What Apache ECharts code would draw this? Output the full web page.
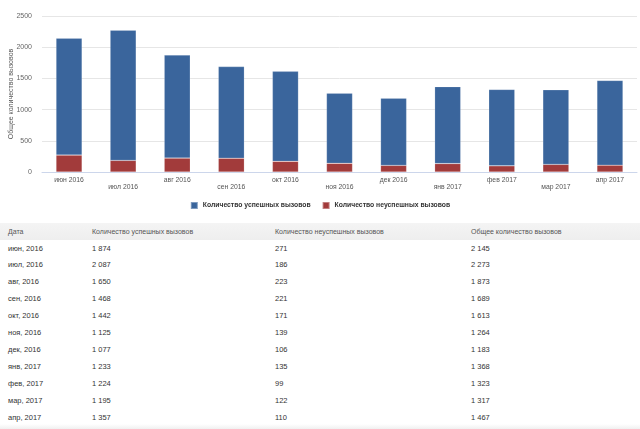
<!DOCTYPE html>
<html>
<head>
<meta charset="utf-8">
<script src="https://cdn.jsdelivr.net/npm/echarts@6/dist/echarts.min.js"></script>
<style>
  html, body { margin:0; padding:0; background:#fff; }
  #wrap { position:relative; width:640px; height:429px; overflow:hidden; font-family:"Liberation Sans", Arial, Helvetica, sans-serif; }
  #chart { position:absolute; left:0; top:0; width:640px; height:215px; }
  #hdr { position:absolute; left:0; top:223px; width:640px; height:17px; background:linear-gradient(#f4f4f4,#eeeeee); }
  .cell { position:absolute; white-space:nowrap; font-size:7.5px; line-height:9px; color:#333; }
  .hcell { color:#555; font-size:7px; }
  #bottom { position:absolute; left:0; top:424px; width:640px; height:5px; background:linear-gradient(#ffffff,#f0f0f0); }
</style>
</head>
<body>
<div id="wrap">
  <div id="chart"></div>
  <div id="hdr"></div>
  <div id="table"></div>
  <div id="bottom"></div>
</div>
<script>
// ---- data ----
const categories = ['июн 2016','июл 2016','авг 2016','сен 2016','окт 2016','ноя 2016','дек 2016','янв 2017','фев 2017','мар 2017','апр 2017'];
const tableDates = ['июн, 2016','июл, 2016','авг, 2016','сен, 2016','окт, 2016','ноя, 2016','дек, 2016','янв, 2017','фев, 2017','мар, 2017','апр, 2017'];
const successCalls = [1874, 2087, 1650, 1468, 1442, 1125, 1077, 1233, 1224, 1195, 1357];
const failedCalls  = [271, 186, 223, 221, 171, 139, 106, 135, 99, 122, 110];
const totalCalls   = [2145, 2273, 1873, 1689, 1613, 1264, 1183, 1368, 1323, 1317, 1467];
const seriesNames  = ['Количество успешных вызовов', 'Количество неуспешных вызовов'];
const tableHeaders = ['Дата', 'Количество успешных вызовов', 'Количество неуспешных вызовов', 'Общее количество вызовов'];
const yAxisTitle   = 'Общее количество вызовов';

const FONT = '"Liberation Sans", Arial, Helvetica, sans-serif';
const chart = echarts.init(document.getElementById('chart'), null, {renderer:'canvas'});
chart.setOption({
  animation:false,
  textStyle:{fontFamily:FONT},
  grid:{left:42, right:3, top:16, bottom:43, containLabel:false, outerBoundsMode:'none'},
  legend:{
    data:[seriesNames[0], seriesNames[1]],
    top:196, left:'center',
    itemWidth:7, itemHeight:7, itemGap:11, icon:'rect',
    textStyle:{fontSize:6.8, fontWeight:'bold', color:'#333', fontFamily:FONT}
  },
  xAxis:{
    type:'category', data:categories,
    axisLine:{lineStyle:{color:'#ccd6eb', width:1}},
    axisTick:{alignWithLabel:true, length:5, lineStyle:{color:'#ccd6eb'}},
    axisLabel:{
      interval:0, margin:5, fontSize:6.8, color:'#555', fontFamily:FONT,
      formatter:function(v, i){ return i % 2 ? '{b|' + v + '}' : '{a|' + v + '}'; },
      rich:{a:{fontSize:6.8, color:'#555', fontFamily:FONT}, b:{fontSize:6.8, color:'#555', fontFamily:FONT, padding:[7,0,0,0]}}
    }
  },
  yAxis:{
    type:'value', min:0, max:2500, interval:500,
    name:yAxisTitle, nameLocation:'middle', nameGap:27, nameRotate:90, nameMoveOverlap:false,
    nameTextStyle:{fontSize:7, color:'#555', fontFamily:FONT},
    axisLine:{show:false}, axisTick:{show:false},
    axisLabel:{fontSize:7, color:'#666', margin:10, fontFamily:FONT, formatter:function(v){ return String(v); }},
    splitLine:{lineStyle:{color:'#e6e6e6', width:1}}
  },
  series:[
    {name:seriesNames[1], type:'bar', stack:'calls', data:failedCalls, barWidth:26,
     itemStyle:{color:'#a23b3b', borderColor:'rgba(255,255,255,0.35)', borderWidth:0.5}},
    {name:seriesNames[0], type:'bar', stack:'calls', data:successCalls, barWidth:26,
     itemStyle:{color:'#3a659c', borderColor:'rgba(255,255,255,0.35)', borderWidth:0.5}}
  ]
});

// ---- table ----
function fmt(n){ return String(n).replace(/\B(?=(\d{3})+(?!\d))/g, ' '); }
const colX = [8, 92, 275, 471];
const table = document.getElementById('table');
function addCell(text, x, y, cls){
  const d = document.createElement('div');
  d.className = 'cell' + (cls ? ' ' + cls : '');
  d.style.left = x + 'px';
  d.style.top = (y - 4.5) + 'px';
  d.textContent = text;
  table.appendChild(d);
}
tableHeaders.forEach((h, j) => addCell(h, colX[j], 231.5, 'hcell'));
for (let i = 0; i < tableDates.length; i++){
  const y = 248 + i * 16.9;
  addCell(tableDates[i], colX[0], y);
  addCell(fmt(successCalls[i]), colX[1], y);
  addCell(fmt(failedCalls[i]), colX[2], y);
  addCell(fmt(totalCalls[i]), colX[3], y);
}
</script>
</body>
</html>
